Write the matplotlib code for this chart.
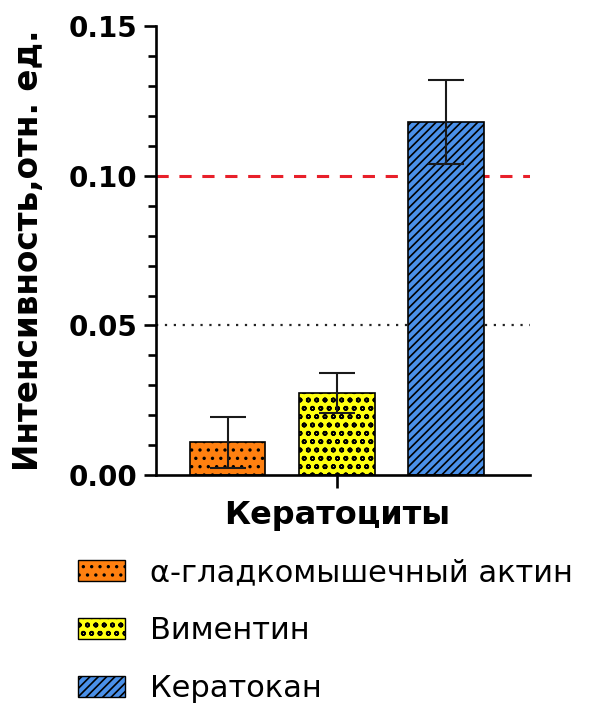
import matplotlib
matplotlib.use("Agg")
import matplotlib.pyplot as plt
from matplotlib.patches import Patch
from matplotlib.ticker import MultipleLocator

plt.rcParams['font.family'] = ['DejaVu Sans']
plt.rcParams['hatch.linewidth'] = 1.2

labels = ['α-гладкомышечный актин', 'Виментин', 'Кератокан']
values = [0.011, 0.0274, 0.118]
errors = [0.0085, 0.0068, 0.014]
colors = ['#FF8010', '#FFFF10', '#4A90E8']
hatches = ['..', 'oo', '////']
category = 'Кератоциты'
yticks = [0.00, 0.05, 0.10, 0.15]
red_line = 0.10
dot_line = 0.05

fig = plt.figure(figsize=(5.99, 7.09), dpi=100)
ax = fig.add_axes([0.26, 0.33, 0.625, 0.633])

xpos = [-1, 0, 1]
for x, v, e, c, h in zip(xpos, values, errors, colors, hatches):
    ax.bar(x, v, width=0.69, color=c, edgecolor='black', hatch=h, linewidth=1.2, zorder=2)
    ax.errorbar(x, v, yerr=e, fmt='none', ecolor='#1a1a1a', elinewidth=1.5,
                capsize=13, capthick=1.5, zorder=3)

ax.axhline(red_line, color='#E8202A', linestyle=(0, (4, 3.5)), linewidth=2.2, zorder=1)
ax.axhline(dot_line, color='#222222', linestyle=(0, (1, 3)), linewidth=1.6, zorder=1)

ax.set_xlim(-1.66, 1.77)
ax.set_ylim(0, 0.15)
ax.set_yticks(yticks)
ax.set_yticklabels([f'{t:.2f}' for t in yticks])
ax.yaxis.set_minor_locator(MultipleLocator(0.01))
ax.set_xticks([0])
ax.set_xticklabels([category])
for s in ['top', 'right']:
    ax.spines[s].set_visible(False)
for s in ['left', 'bottom']:
    ax.spines[s].set_linewidth(1.9)
ax.tick_params(axis='y', which='major', length=9, width=1.9, labelsize=20, pad=4)
ax.tick_params(axis='y', which='minor', length=6, width=1.9)
ax.tick_params(axis='x', length=9, width=1.9, labelsize=23, pad=9)
for t in ax.get_yticklabels() + ax.get_xticklabels():
    t.set_fontweight('bold')
ax.set_ylabel('Интенсивность,отн. ед.', fontsize=23.5, fontweight='bold', labelpad=17)

handles = [Patch(facecolor=c, edgecolor='black', hatch=h, linewidth=1.0)
           for c, h in zip(colors, hatches)]
fig.legend(handles, labels, loc='upper left', bbox_to_anchor=(0.11, 0.23),
           frameon=False, fontsize=22, handlelength=1.55, handleheight=0.65,
           labelspacing=0.95, handletextpad=0.8, borderaxespad=0)

fig.savefig('out.png', dpi=100)
